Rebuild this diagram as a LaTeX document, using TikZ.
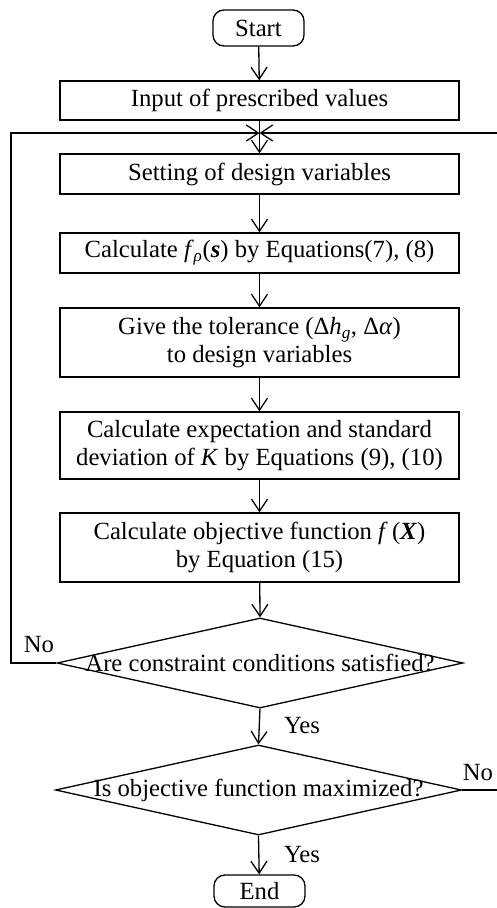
\documentclass[tikz,border=0pt]{standalone}
\usepackage{fontspec}
\setmainfont{Liberation Serif}
\usetikzlibrary{arrows.meta,shapes.geometric}
\begin{document}
\begin{tikzpicture}[x=1pt,y=-1pt,
  every path/.style={line width=1.3pt},
  txt/.style={font=\fontsize{24.7}{28}\selectfont, align=center, inner sep=0pt},
  proc/.style={draw, line width=1.3pt, minimum width=399pt, inner sep=0pt, align=center, font=\fontsize{24.7}{28}\selectfont},
  term/.style={draw, line width=1.3pt, rounded corners=11pt, minimum width=91pt, inner sep=0pt, font=\fontsize{24.7}{28}\selectfont},
  decis/.style={draw, diamond, line width=1.3pt, minimum width=406pt, minimum height=90pt, inner sep=0pt},
  arr/.style={-{Straight Barb[length=12pt,width=16pt,line width=1.3pt]}},
  lbl/.style={font=\fontsize{24.7}{28}\selectfont, inner sep=0pt}
]
\useasboundingbox (0,0) rectangle (497,908);
\node[term, minimum height=36pt] (start) at (258.5,28) {Start};
\node[proc, minimum height=39pt] (input) at (259.5,100.5) {Input of prescribed values};
\node[proc, minimum height=40pt] (set) at (259.5,174) {Setting of design variables};
\node[proc, minimum height=40pt] (fp) at (259.5,253) {Calculate \textit{f}\textsubscript{\textit{ρ}}(\textbf{\textit{s}}) by Equations(7), (8)};
\node[proc, minimum height=69pt] (tol) at (259.5,342.5) {Give the tolerance (Δ\textit{h}\textsubscript{\textit{g}}, Δ\textit{α})\\to design variables};
\node[proc, minimum height=67pt] (exp) at (259.5,445.5) {Calculate expectation and standard\\deviation of \textit{K} by Equations (9), (10)};
\node[proc, minimum height=69pt] (obj) at (259.5,547.5) {Calculate objective function \textit{f}\,(\textbf{\textit{X}})\\by Equation (15)};
\node[decis] (d1) at (260,663) {};
\node[txt] at (d1.center) {Are constraint conditions satisfied?};
\node[decis] (d2) at (258.5,790) {};
\node[txt] at (d2.center) {Is objective function maximized?};
\node[term, minimum height=32pt] (end) at (259.5,891) {End};

\coordinate (j) at (259.5,133);
\coordinate (lc) at (11,663);
\coordinate (lt) at (11,133);
\coordinate (rc) at (497.5,790);
\coordinate (rt) at (497.5,133);

\draw[arr] (start) -- (input);
\draw[arr] (input) -- (set);
\draw[arr] (set) -- (fp);
\draw[arr] (fp) -- (tol);
\draw[arr] (tol) -- (exp);
\draw[arr] (exp) -- (obj);
\draw[arr] (obj) -- (d1.north);
\draw[arr] (d1.south) -- (d2.north);
\draw[arr] (d2.south) -- (end);
\draw[arr] (d1.west) -- (lc) -- (lt) -- (j);
\draw[arr] (d2.east) -- (rc) -- (rt) -- (j);

\node[lbl] at (39,645) {No};
\node[lbl] at (302,726) {Yes};
\node[lbl] at (478,773) {No};
\node[lbl] at (302,855) {Yes};
\end{tikzpicture}
\end{document}
